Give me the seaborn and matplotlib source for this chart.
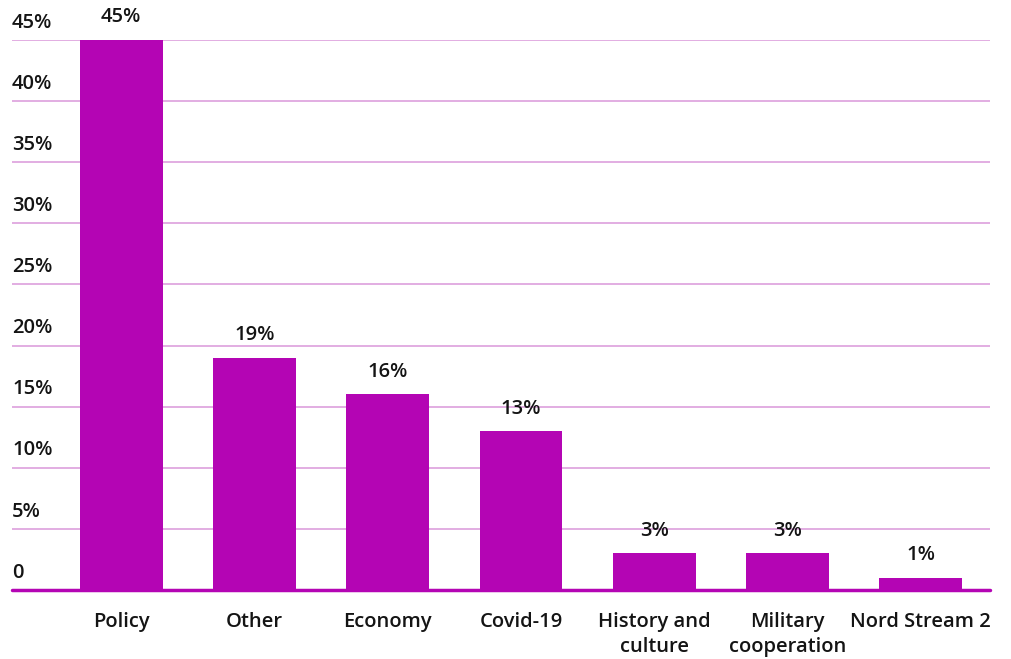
import matplotlib
matplotlib.use("Agg")
import matplotlib.pyplot as plt
import seaborn as sns
import pandas as pd

# %% data
topics = ["Policy", "Other", "Economy", "Covid-19", "History and\nculture", "Military\ncooperation", "Nord Stream 2"]
shares = [45, 19, 16, 13, 3, 3, 1]
yticks = [0, 5, 10, 15, 20, 25, 30, 35, 40, 45]
ytick_labels = ["0", "5%", "10%", "15%", "20%", "25%", "30%", "35%", "40%", "45%"]

df = pd.DataFrame({"topic": topics, "share": shares})

# %% style
sns.set_style("white")
plt.rcParams["font.family"] = ["Open Sans", "DejaVu Sans"]
plt.rcParams["font.weight"] = 600
bar_color = "#B405B4"
grid_color = "#DDA0DD"
txt_color = "#141414"
fs = 14.5

fig = plt.figure(figsize=(10.12, 6.59), dpi=100)
ax = fig.add_axes([12 / 1012, 69 / 659, 978 / 1012, 550 / 659])

sns.barplot(data=df, x="topic", y="share", color=bar_color, width=0.62,
            saturation=1, linewidth=0, ax=ax, zorder=3)

ax.set_xlim(-0.82, 6.52)
ax.set_ylim(0, 45)

# grid lines, baseline drawn separately
for v in yticks[1:]:
    ax.axhline(v, color=grid_color, lw=1.2, zorder=1)
ax.axhline(0, color=bar_color, lw=2.5, zorder=4, clip_on=False)

# y labels sit on top of the grid lines, left aligned
ax.set_yticks([])
for v, lab in zip(yticks, ytick_labels):
    ax.text(0, v + 0.6, lab, transform=ax.get_yaxis_transform(), ha="left",
            va="bottom", fontsize=fs, color=txt_color, clip_on=False)

ax.bar_label(ax.containers[0], labels=[f"{s}%" for s in shares], padding=9,
             fontsize=fs, color=txt_color)

ax.set_xlabel("")
ax.set_ylabel("")
ax.tick_params(axis="x", length=0, pad=16, labelsize=fs, labelcolor=txt_color)
for lab in ax.get_xticklabels():
    lab.set_linespacing(1.35)
sns.despine(ax=ax, left=True, bottom=True)

fig.savefig("out.png", dpi=100)
